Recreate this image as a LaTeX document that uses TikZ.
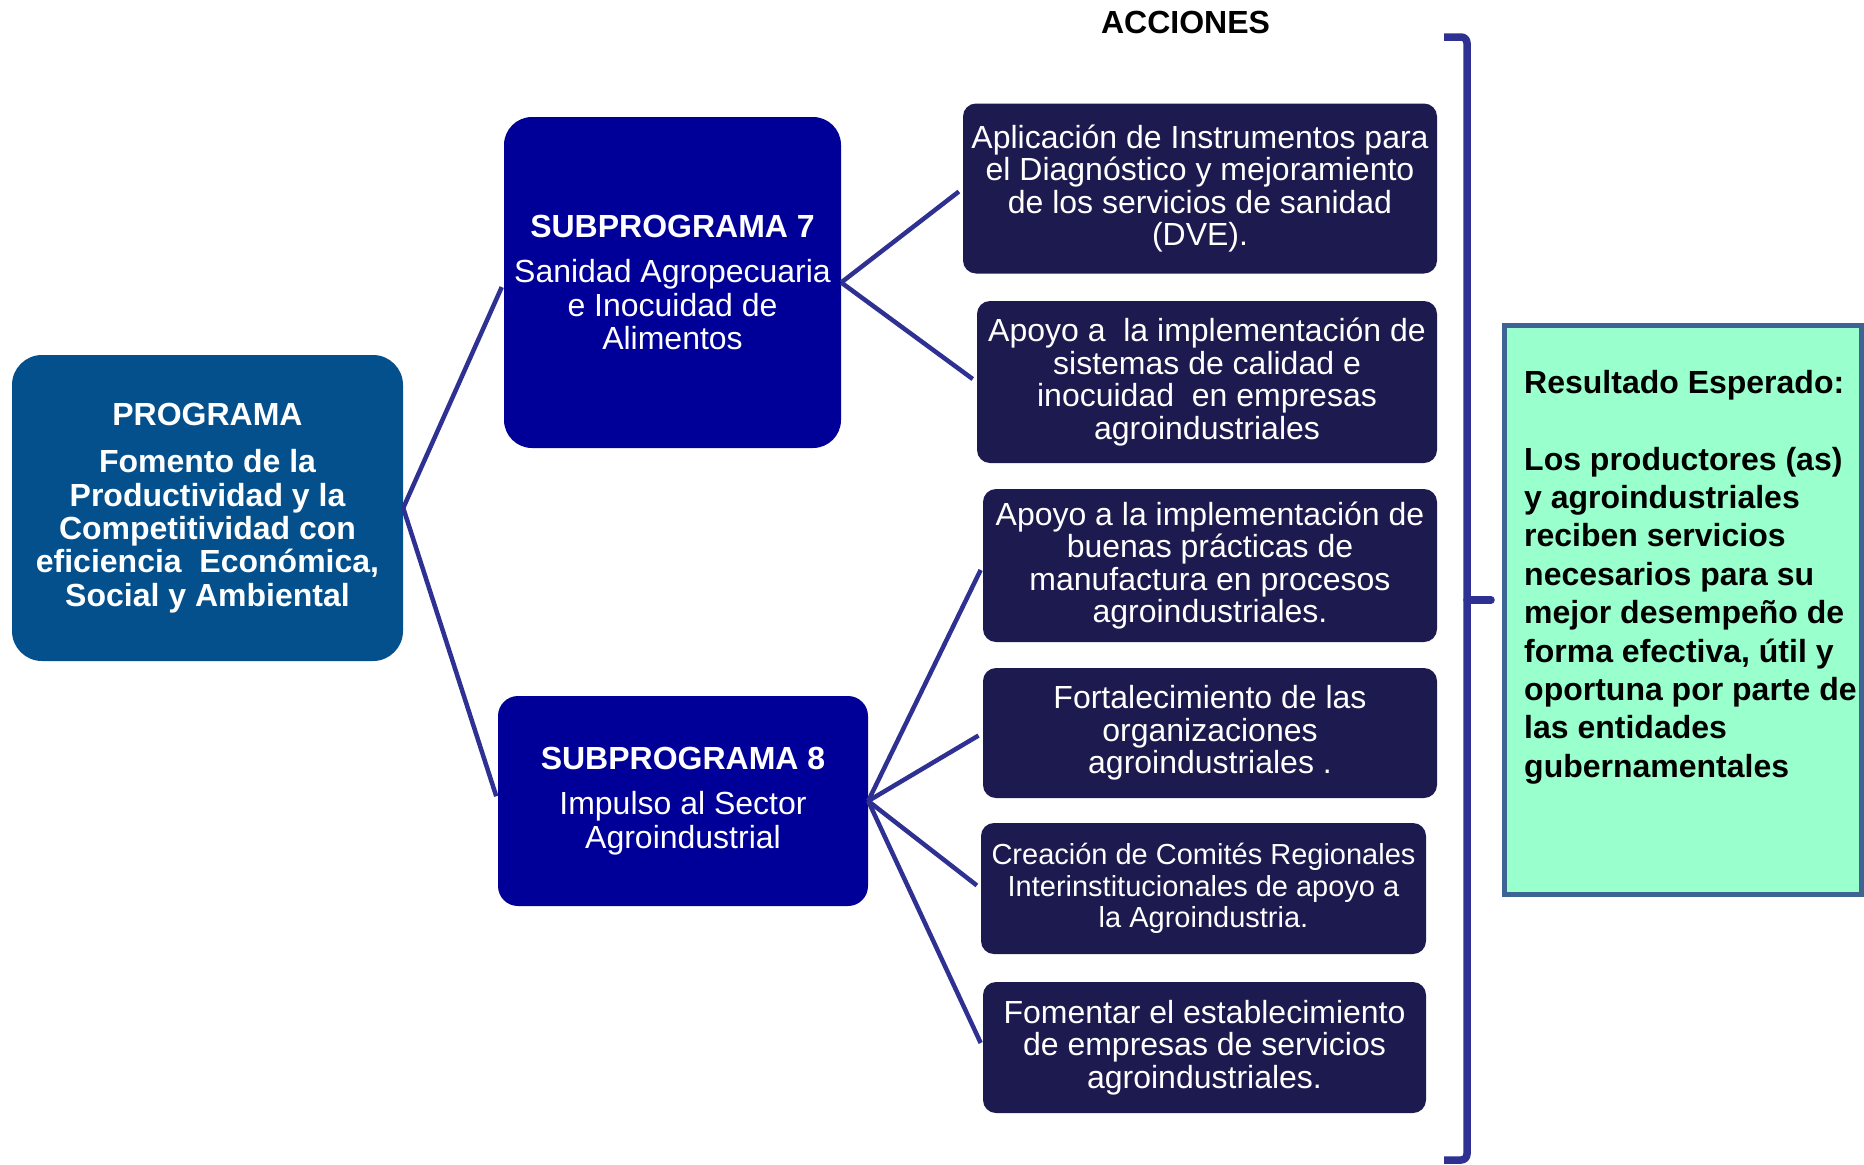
\documentclass[tikz,border=0pt]{standalone}
\usepackage{fontspec}
\setmainfont{Liberation Sans}
\definecolor{progblue}{HTML}{03508C}
\definecolor{subblue}{HTML}{000099}
\definecolor{actnavy}{HTML}{1C1A4E}
\definecolor{linkblue}{HTML}{2E3192}
\definecolor{resgreen}{HTML}{99FFCC}
\definecolor{resedge}{HTML}{3E6494}
\begin{document}
\begin{tikzpicture}[x=1pt,y=-1pt,
    progbox/.style={fill=progblue,text=white,rounded corners=30pt,align=center,inner sep=0pt,
        font=\bfseries\fontsize{32}{33.3}\selectfont},
    subbox/.style={fill=subblue,text=white,align=center,inner sep=0pt,
        font=\fontsize{32}{33.3}\selectfont},
    actbox/.style={fill=actnavy,text=white,rounded corners=13pt,align=center,inner sep=0pt,
        font=\fontsize{32}{32.4}\selectfont},
    link/.style={draw=linkblue,line width=4.5pt,shorten >=5pt}]
\useasboundingbox (0,0) rectangle (1864,1165);
\node[anchor=center,font=\bfseries\fontsize{32}{34}\selectfont] (acciones) at (1185.5,22.5) {ACCIONES};
\node[progbox,minimum width=391pt,minimum height=306pt] (prog) at (207.5,508)
    {PROGRAMA\\[14pt] Fomento de la\\ Productividad y la\\ Competitividad con\\ eficiencia\ \ Económica,\\ Social y Ambiental};
\node[subbox,rounded corners=28pt,minimum width=337pt,minimum height=331pt] (sub7) at (672.5,282.5)
    {\textbf{SUBPROGRAMA 7}\\[12pt] Sanidad Agropecuaria\\ e Inocuidad de\\ Alimentos};
\node[subbox,rounded corners=20pt,minimum width=370pt,minimum height=210pt] (sub8) at (683,801)
    {\textbf{SUBPROGRAMA 8}\\[12pt] Impulso al Sector\\ Agroindustrial};
\node[actbox,minimum width=474pt,minimum height=170pt] (act1) at (1200,188.5)
    {Aplicación de Instrumentos para\\ el Diagnóstico y mejoramiento\\ de los servicios de sanidad\\ (DVE).};
\node[actbox,minimum width=460pt,minimum height=162pt] (act2) at (1207,382)
    {Apoyo a\ \ la implementación de\\ sistemas de calidad e\\ inocuidad\ \ en empresas\\ agroindustriales};
\node[actbox,minimum width=454pt,minimum height=153pt] (act3) at (1210,565.5)
    {Apoyo a la implementación de\\ buenas prácticas de\\ manufactura en procesos\\ agroindustriales.};
\node[actbox,minimum width=454pt,minimum height=130pt] (act4) at (1210,733)
    {Fortalecimiento de las\\ organizaciones\\ agroindustriales .};
\node[actbox,minimum width=445pt,minimum height=131pt,font=\fontsize{29}{31.5}\selectfont] (act5) at (1203.5,888.5)
    {Creación de Comités Regionales\\ Interinstitucionales de apoyo a\\ la Agroindustria.};
\node[actbox,minimum width=443pt,minimum height=131pt] (act6) at (1204.5,1047.5)
    {Fomentar el establecimiento\\ de empresas de servicios\\ agroindustriales.};
\draw[link] (prog.east) -- (sub7.west);
\draw[link] (prog.east) -- (sub8.west);
\draw[link] (sub7.east) -- (act1.west);
\draw[link] (sub7.east) -- (act2.west);
\draw[link] (sub8.east) -- (act3.west);
\draw[link] (sub8.east) -- (act4.west);
\draw[link] (sub8.east) -- (act5.west);
\draw[link] (sub8.east) -- (act6.west);
\coordinate (brtop) at (1444,37);
\coordinate (brmid) at (1467,600);
\coordinate (brtip) at (1491,600);
\coordinate (brbot) at (1444,1160);
\draw[linkblue,line width=7.5pt,rounded corners=6pt] (brtop) -| (brmid) |- (brbot);
\draw[linkblue,line width=7.5pt,line cap=round] (brmid) -- (brtip);
\node[fill=resgreen,draw=resedge,line width=5pt,minimum width=357pt,minimum height=569pt] (result) at (1683,610) {};
\node[anchor=north west,align=left,inner sep=0pt,font=\bfseries\fontsize{32}{38.4}\selectfont] (restext) at (1524,370)
    {Resultado Esperado:\\[38.4pt] Los productores (as)\\ y agroindustriales\\ reciben servicios\\ necesarios para su\\ mejor desempeño de\\ forma efectiva, útil y\\ oportuna por parte de\\ las entidades\\ gubernamentales};
\end{tikzpicture}
\end{document}
